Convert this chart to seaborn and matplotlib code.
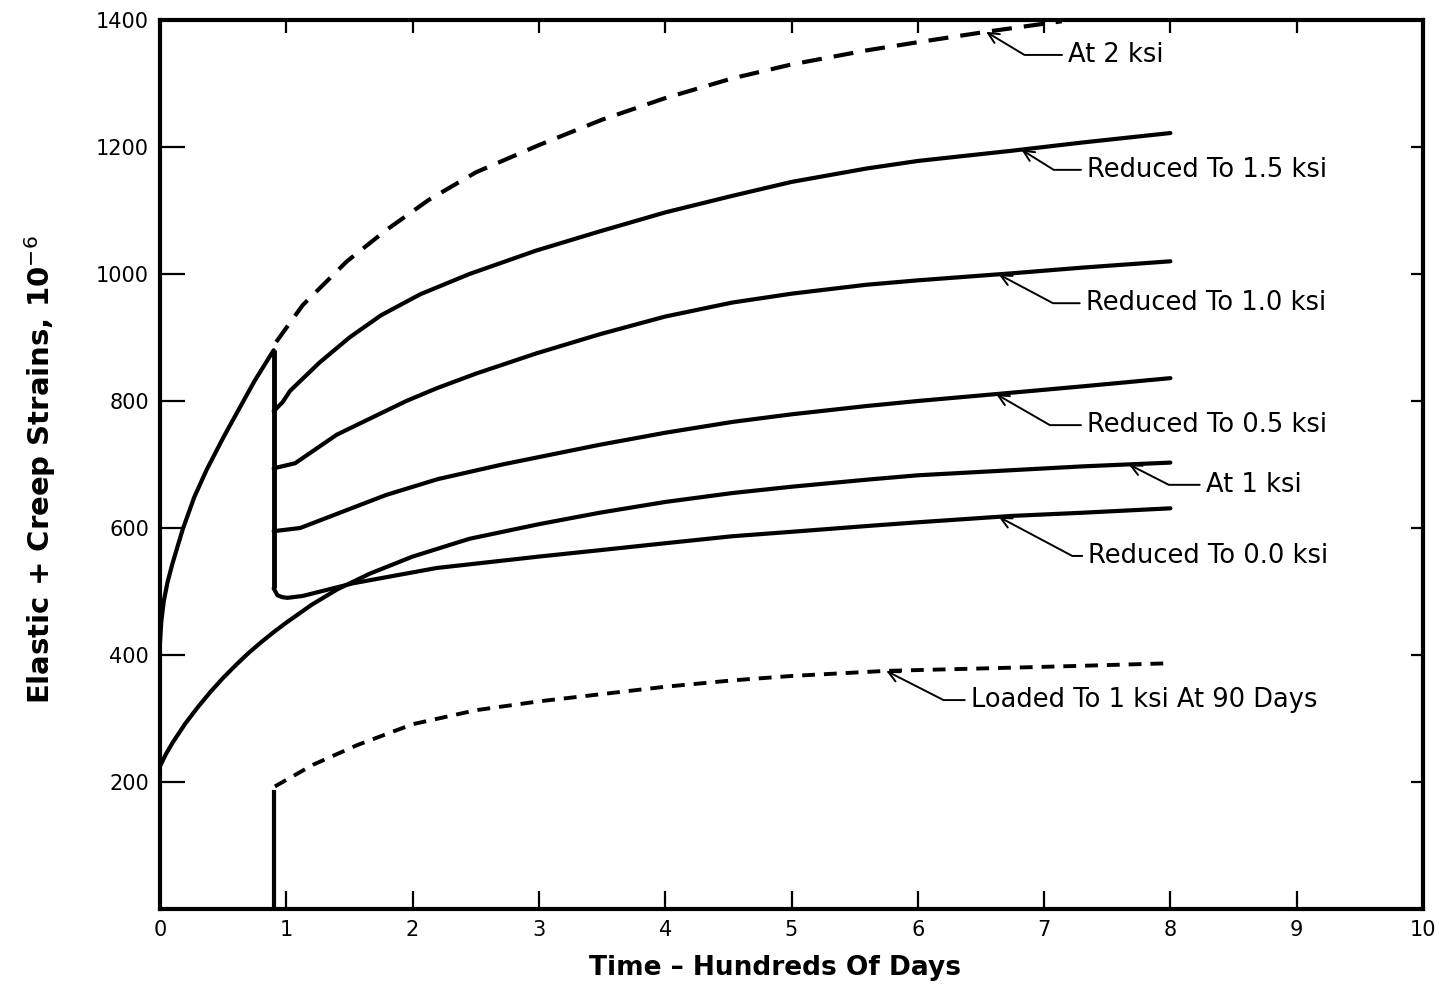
import numpy as np
import pandas as pd
import seaborn as sns
import matplotlib.pyplot as plt

# Time in hundreds of days, strains in micro-strain
load_2ksi_x = [0, 0.01, 0.03, 0.06, 0.1, 0.18, 0.27, 0.37, 0.5, 0.63, 0.75, 0.9]
load_2ksi_y = [420, 452, 485, 515, 545, 598, 648, 692, 742, 789, 832, 880]

cont_2ksi_x = [0.92, 1.13, 1.48, 1.79, 2.13, 2.5, 3.0, 3.5, 4.0, 4.53, 5.0, 5.59, 6.0, 6.56, 7.14]
cont_2ksi_y = [893, 951, 1020, 1069, 1117, 1160, 1203, 1243, 1277, 1308, 1330, 1352, 1365, 1382, 1398]

at_1ksi_x = [0, 0.05, 0.1, 0.2, 0.3, 0.4, 0.5, 0.6, 0.7, 0.8, 0.9, 1.0, 1.2, 1.4, 1.66, 2.0,
             2.45, 3.0, 3.48, 4.0, 4.53, 5.0, 5.59, 6.0, 6.74, 7.3, 8.0]
at_1ksi_y = [225, 245, 262, 292, 318, 342, 364, 384, 403, 420, 436, 451, 479, 503, 528, 555,
             583, 606, 624, 641, 655, 665, 676, 683, 691, 697, 703]

red_15_x = [0.9, 0.97, 1.03, 1.26, 1.5, 1.75, 2.06, 2.45, 2.98, 3.48, 4.0, 4.53, 5.0, 5.59, 6.0, 6.74, 7.3, 8.0]
red_15_y = [784, 798, 816, 860, 900, 935, 968, 1000, 1037, 1067, 1097, 1123, 1145, 1166, 1178, 1194, 1207, 1222]

red_10_x = [0.9, 1.07, 1.4, 1.95, 2.19, 2.5, 2.98, 3.48, 4.0, 4.53, 5.0, 5.59, 6.0, 6.74, 7.3, 8.0]
red_10_y = [694, 702, 747, 800, 820, 843, 875, 905, 933, 955, 969, 983, 990, 1001, 1010, 1020]

red_05_x = [0.9, 1.11, 1.79, 2.2, 2.71, 3.48, 4.0, 4.53, 5.0, 5.59, 6.0, 6.74, 7.3, 8.0]
red_05_y = [595, 600, 652, 677, 700, 731, 750, 767, 779, 792, 800, 813, 823, 836]

red_00_x = [0.9, 0.93, 0.97, 1.01, 1.13, 1.53, 2.19, 3.0, 3.48, 4.0, 4.53, 5.0, 5.59, 6.0, 6.74, 7.3, 8.0]
red_00_y = [505, 494, 491, 490, 493, 513, 537, 555, 565, 576, 587, 594, 603, 609, 619, 624, 631]

late_1ksi_x = [0.91, 1.21, 1.56, 2.0, 2.5, 3.0, 3.48, 4.0, 4.53, 5.0, 5.75, 6.74, 7.3, 8.0]
late_1ksi_y = [193, 227, 258, 291, 313, 327, 338, 350, 360, 367, 375, 380, 383, 387]

x_ticks = list(range(0, 11))
y_ticks = [200, 400, 600, 800, 1000, 1200, 1400]

sns.set_theme(style="ticks")
plt.rcParams['font.family'] = ['DejaVu Sans']

fig = plt.figure(figsize=(14.39, 9.91), dpi=100)
ax = fig.add_axes([160 / 1439, 1 - 909 / 991, 1263 / 1439, 889 / 991])

LW = 3.0


def curve(x, y, dashed=None, lw=LW):
    kw = dict(ax=ax, estimator=None, sort=False, color="black", lw=lw,
              solid_capstyle="round", solid_joinstyle="round")
    if dashed is not None:
        kw["linestyle"] = (0, dashed)
    sns.lineplot(x=x, y=y, **kw)


# initial loading at 2 ksi and its continuation
curve(load_2ksi_x, load_2ksi_y)
curve(cont_2ksi_x, cont_2ksi_y, dashed=(4.8, 2.9))
# unloading step at 90 days
ax.vlines(red_00_x[0], red_00_y[0], load_2ksi_y[-1], color="black", lw=LW + 0.5)
for xs, ys in [(red_15_x, red_15_y), (red_10_x, red_10_y),
               (red_05_x, red_05_y), (red_00_x, red_00_y)]:
    curve(xs, ys)
# sustained 1 ksi
curve(at_1ksi_x, at_1ksi_y)
# loaded at 90 days
ax.vlines(late_1ksi_x[0] - 0.01, 0, late_1ksi_y[0] - 6, color="black", lw=LW)
curve(late_1ksi_x, late_1ksi_y, dashed=(3.3, 2.3), lw=2.8)

ax.set_xlim(0, 10)
ax.set_ylim(0, 1400)
ax.set_xticks(x_ticks)
ax.set_xticklabels([str(v) for v in x_ticks])
ax.set_yticks(y_ticks)
ax.set_yticklabels([str(v) for v in y_ticks])
ax.tick_params(direction="in", top=True, right=True, width=1.6, labelsize=15,
               colors="black")
ax.tick_params(axis="y", pad=8)
ax.tick_params(axis="x", pad=8)
for t in ax.yaxis.get_major_ticks():
    t.tick1line.set_markersize(18)
    t.tick2line.set_markersize(9)
for t in ax.xaxis.get_major_ticks():
    t.tick1line.set_markersize(13)
    t.tick2line.set_markersize(9)

for s in ax.spines.values():
    s.set_linewidth(3)
    s.set_color("black")

ax.set_xlabel("Time – Hundreds Of Days", fontsize=19, fontweight="bold", color="black")
ax.xaxis.set_label_coords((775 - 160) / 1263, (909 - 955) / 889)
ax.set_ylabel("Elastic + Creep Strains, 10$^{-6}$", fontsize=21, fontweight="bold",
              color="black")
ax.yaxis.set_label_coords((58 - 160) / 1263, (909 - 470) / 889)

labels = [
    ("At 2 ksi", cont_2ksi_x, cont_2ksi_y, 6.54, (7.19, 1345), -31),
    ("Reduced To 1.5 ksi", red_15_x, red_15_y, 6.82, (7.34, 1164), -32),
    ("Reduced To 1.0 ksi", red_10_x, red_10_y, 6.64, (7.33, 954), -28),
    ("Reduced To 0.5 ksi", red_05_x, red_05_y, 6.62, (7.34, 762), -30),
    ("At 1 ksi", at_1ksi_x, at_1ksi_y, 7.67, (8.28, 668), -27),
    ("Reduced To 0.0 ksi", red_00_x, red_00_y, 6.64, (7.35, 556), -28),
    ("Loaded To 1 ksi At 90 Days", late_1ksi_x, late_1ksi_y, 5.75, (6.42, 329), -27),
]
for text, xs, ys, tip_x, pos, ang in labels:
    tip = (tip_x, float(np.interp(tip_x, xs, ys)))
    ax.annotate(text, xy=tip, xytext=pos, ha="left", va="center", fontsize=18.5,
                color="black",
                arrowprops=dict(arrowstyle="->,head_length=0.42,head_width=0.2",
                                color="black", lw=1.4, shrinkA=2, shrinkB=0,
                                relpos=(0, 0.5),
                                connectionstyle=f"angle,angleA=0,angleB={ang},rad=0"))

fig.savefig("out.png", dpi=100, facecolor="white")
